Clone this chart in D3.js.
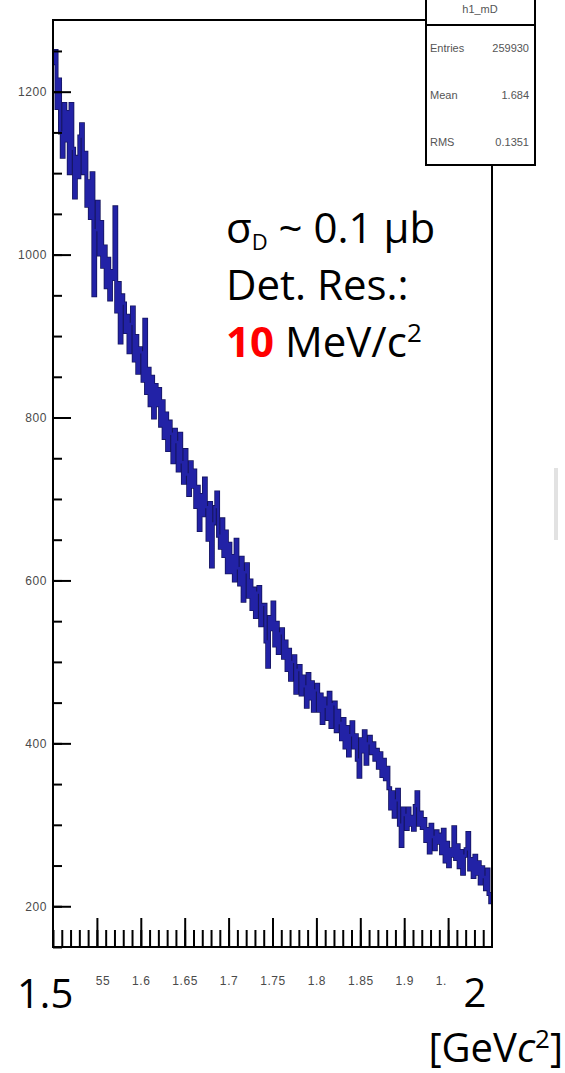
<!DOCTYPE html>
<html>
<head>
<meta charset="utf-8">
<script src="https://cdn.jsdelivr.net/npm/d3@7"></script>
<style>
  body { margin: 0; background: #fff; }
  .tick-lbl { font-family: "Liberation Sans", Arial, sans-serif; font-size: 12px; fill: #4a4a4a; letter-spacing: 0.6px; }
  .stat-lbl { font-family: "Liberation Sans", Arial, sans-serif; font-size: 11px; fill: #555; }
  .big { font-family: "Open Sans", sans-serif; font-size: 40px; fill: #000; }
  .note { font-family: "Open Sans", sans-serif; font-size: 42px; fill: #000; }
</style>
</head>
<body>
<div class="container"></div>
<script>
// invariant-mass histogram, 250 bins of 2 MeV from 1.5 to 2.0
var binStart = 1.5, binWidth = 0.002;
var counts = [
  1235, 1250, 1180, 1215, 1150, 1120, 1185, 1140, 1175, 1100,
  1185, 1130, 1070, 1120, 1095, 1145, 1160, 1100, 1125, 1060,
  1090, 1045, 1100, 950, 1030, 1065, 1000, 1040, 985, 1010,
  960, 995, 945, 980, 970, 1058, 930, 965, 892, 950,
  940, 905, 925, 880, 915, 935, 870, 900, 855, 885,
  880, 845, 920, 830, 860, 815, 850, 800, 840, 815,
  835, 790, 820, 775, 805, 760, 795, 780, 745, 785,
  770, 735, 780, 745, 720, 760, 730, 705, 745, 715,
  735, 690, 715, 662, 705, 680, 725, 690, 650, 695,
  617, 670, 690, 708, 655, 640, 675, 630, 660, 610,
  645, 610, 630, 600, 650, 615, 595, 628, 575, 610,
  620, 580, 600, 565, 590, 555, 585, 592, 545, 570,
  570, 525, 494, 555, 540, 573, 520, 548, 511, 535,
  540, 505, 525, 490, 515, 478, 500, 507, 462, 490,
  495, 460, 482, 470, 445, 485, 455, 475, 440, 465,
  472, 440, 460, 425, 455, 445, 430, 462, 420, 448,
  450, 415, 440, 425, 405, 430, 395, 420, 385, 410,
  426, 395, 410, 380, 359, 405, 390, 415, 375, 400,
  408, 388, 400, 380, 392, 370, 388, 360, 380, 356,
  370, 345, 320, 340, 310, 330, 343, 300, 274, 320,
  312, 295, 320, 300, 310, 294, 323, 340, 300, 315,
  296, 307, 280, 295, 266, 300, 285, 270, 292, 278,
  288, 265, 294, 255, 278, 249, 270, 262, 297, 258,
  275, 248, 268, 240, 262, 270, 290, 245, 258, 236,
  262, 240, 254, 228, 248, 236, 221, 245, 215, 205
];
var yTickValues = [200, 400, 600, 800, 1000, 1200];
var xTickValues = [1.55, 1.6, 1.65, 1.7, 1.75, 1.8, 1.85, 1.9, 1.95];
var xTickLabels = ['1.55', '1.6', '1.65', '1.7', '1.75', '1.8', '1.85', '1.9', '1.95'];
var stats = [['Entries', '259930'], ['Mean', '1.684'], ['RMS', '0.1351']];

var width = 565, height = 1073;
var frame = {left: 53, right: 492, top: 20, bottom: 947};

var svg = d3.select('.container').append('svg')
    .attr('width', width)
    .attr('height', height);

var x = d3.scaleLinear().domain([1.5, 2.0]).range([frame.left, frame.right]);
var y = d3.scaleLinear().domain([150, 1288]).range([frame.bottom, frame.top]);

// ----------
// histogram as steps
var pts = counts.map(function(c, i) { return [binStart + i * binWidth, c]; });
pts.push([binStart + counts.length * binWidth, counts[counts.length - 1]]);

var line = d3.line()
    .x(function(d) { return x(d[0]); })
    .y(function(d) { return y(d[1]); })
    .curve(d3.curveStepAfter);

// dark edge then blue core, like the blurred ROOT line
svg.append('path')
    .datum(pts)
    .attr('fill', 'none')
    .attr('stroke', '#15155e')
    .attr('stroke-width', 4)
    .attr('d', line);
svg.append('path')
    .datum(pts)
    .attr('fill', 'none')
    .attr('stroke', '#2222a6')
    .attr('stroke-width', 2.4)
    .attr('d', line);

// ----------
// axes, ROOT style ticks pointing inwards
svg.append('g')
    .attr('transform', 'translate(' + frame.left + ',0)')
    .call(d3.axisLeft(y).tickValues(d3.range(150, 1288, 50)).tickSize(-9).tickFormat(''))
    .call(function(g) { g.select('.domain').remove(); });

svg.append('g')
    .attr('transform', 'translate(' + frame.left + ',0)')
    .call(d3.axisLeft(y).tickValues(yTickValues).tickSize(-18).tickPadding(6).tickFormat(d3.format('d')))
    .call(function(g) {
      g.select('.domain').remove();
      g.selectAll('text').attr('class', 'tick-lbl').attr('fill', null).attr('font-size', null).attr('font-family', null);
    });

svg.append('g')
    .attr('transform', 'translate(0,' + frame.bottom + ')')
    .call(d3.axisBottom(x).tickValues(d3.range(50).map(function(i) { return 1.5 + i * 0.01; })).tickSize(-17).tickFormat(''))
    .call(function(g) { g.select('.domain').remove(); });

svg.append('g')
    .attr('transform', 'translate(0,' + frame.bottom + ')')
    .call(d3.axisBottom(x).tickValues(xTickValues).tickSize(-29).tickPadding(29)
      .tickFormat(function(d, i) { return xTickLabels[i]; }))
    .call(function(g) {
      g.select('.domain').remove();
      g.selectAll('text').attr('class', 'tick-lbl').attr('fill', null).attr('font-size', null).attr('font-family', null);
    });

svg.selectAll('.tick line').attr('stroke', '#000').attr('stroke-width', 2);

svg.append('rect')
    .attr('x', frame.left).attr('y', frame.top)
    .attr('width', frame.right - frame.left)
    .attr('height', frame.bottom - frame.top)
    .attr('fill', 'none')
    .attr('stroke', '#000')
    .attr('stroke-width', 2);

// ----------
// stats box
var sb = svg.append('g');
sb.append('rect')
    .attr('x', 426).attr('y', -5).attr('width', 109).attr('height', 170)
    .attr('fill', '#fff').attr('stroke', '#000').attr('stroke-width', 2);
sb.append('line')
    .attr('x1', 426).attr('x2', 535).attr('y1', 25).attr('y2', 25)
    .attr('stroke', '#000').attr('stroke-width', 2);
sb.append('text').attr('class', 'stat-lbl').attr('x', 480).attr('y', 13)
    .attr('text-anchor', 'middle').attr('fill', '#aaa').attr('font-size', '10px').text('h1_mD');
sb.selectAll('.stat-name')
    .data(stats)
    .enter().append('text')
      .attr('class', 'stat-lbl')
      .attr('x', 430)
      .attr('y', function(d, i) { return 52 + i * 47; })
      .text(function(d) { return d[0]; });
sb.selectAll('.stat-val')
    .data(stats)
    .enter().append('text')
      .attr('class', 'stat-lbl')
      .attr('x', 529)
      .attr('text-anchor', 'end')
      .attr('y', function(d, i) { return 52 + i * 47; })
      .text(function(d) { return d[1]; });

// ----------
// big overlay labels
svg.append('rect').attr('x', 0).attr('y', 952).attr('width', 96).attr('height', 121).attr('fill', '#fff');
svg.append('rect').attr('x', 447).attr('y', 952).attr('width', 118).attr('height', 121).attr('fill', '#fff');

svg.append('text').attr('class', 'big').attr('x', 17).attr('y', 1008).text('1.5');
svg.append('text').attr('class', 'big').attr('x', 475).attr('y', 1007).attr('text-anchor', 'middle').text('2');
var unit = svg.append('text').attr('class', 'big').attr('x', 563).attr('y', 1062).attr('text-anchor', 'end');
unit.append('tspan').text('[GeV');
unit.append('tspan').attr('font-style', 'italic').text('c');
unit.append('tspan').attr('font-size', '26px').attr('dy', -14).text('2');
unit.append('tspan').attr('dy', 14).text(']');

// annotation
var t1 = svg.append('text').attr('class', 'note').attr('x', 226).attr('y', 243);
t1.append('tspan').text('σ');
t1.append('tspan').attr('font-size', '22px').attr('dy', 7).text('D');
t1.append('tspan').attr('dy', -7).text(' ~ 0.1 μb');

svg.append('text').attr('class', 'note').attr('x', 226).attr('y', 300).text('Det. Res.:');

var t3 = svg.append('text').attr('class', 'note').attr('x', 226).attr('y', 357);
t3.append('tspan').attr('fill', '#ff0000').attr('font-weight', 'bold').text('10');
t3.append('tspan').text(' MeV/c');
t3.append('tspan').attr('font-size', '26px').attr('dy', -15).text('2');

// faint mark at right margin
svg.append('rect').attr('x', 554).attr('y', 468).attr('width', 4).attr('height', 72).attr('fill', '#e2e2e2');
</script>
</body>
</html>
